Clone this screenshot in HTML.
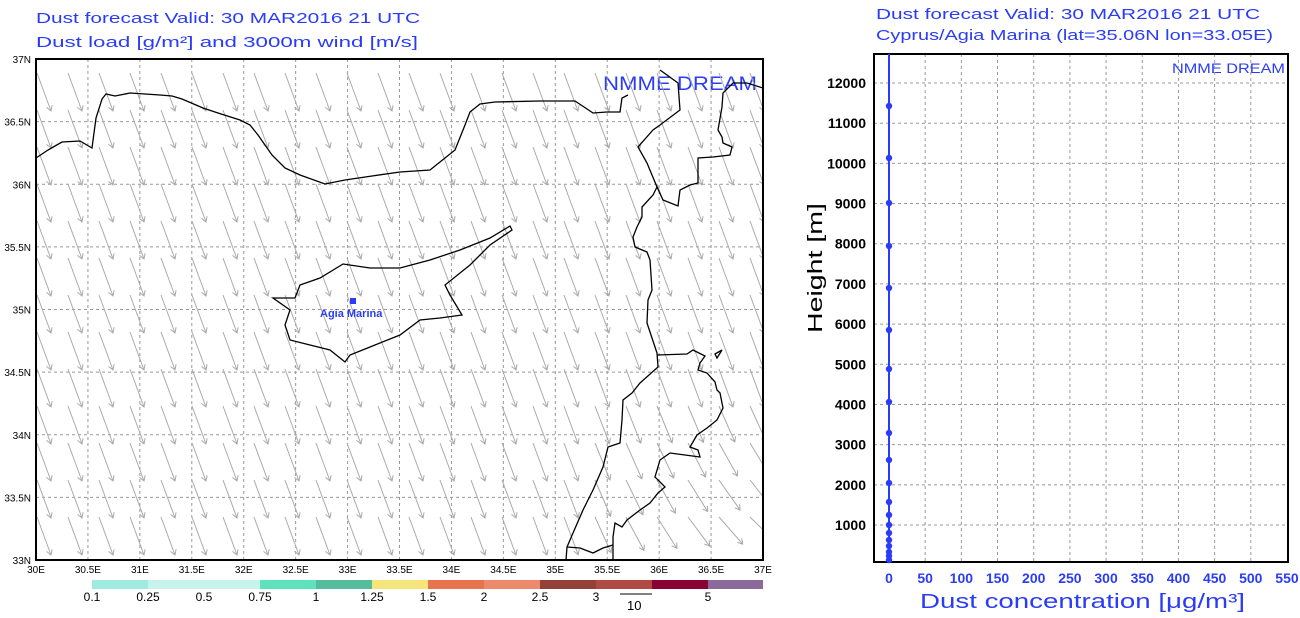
<!DOCTYPE html>
<html><head><meta charset="utf-8"><style>
html,body{margin:0;padding:0;background:#fff;width:1300px;height:618px;overflow:hidden}
svg{display:block}
text{font-family:"Liberation Sans",sans-serif}
</style></head><body>
<svg id="s" width="1300" height="618" viewBox="0 0 1300 618" xmlns="http://www.w3.org/2000/svg">
<defs><clipPath id="mc"><rect x="36" y="59" width="727" height="501"/></clipPath></defs>
<g fill="#2a3cf5" font-size="15">
<text x="36" y="23" textLength="384" lengthAdjust="spacingAndGlyphs">Dust forecast    Valid: 30 MAR2016 21 UTC</text>
<text x="36" y="47" textLength="382" lengthAdjust="spacingAndGlyphs">Dust load [g/m²]  and 3000m wind [m/s]</text>
<text x="876" y="19" textLength="384" lengthAdjust="spacingAndGlyphs">Dust forecast    Valid: 30 MAR2016 21 UTC</text>
<text x="876" y="40" textLength="397" lengthAdjust="spacingAndGlyphs">Cyprus/Agia Marina (lat=35.06N lon=33.05E)</text>
<text x="603" y="90" font-size="19" textLength="154" lengthAdjust="spacingAndGlyphs">NMME DREAM</text>
<text x="1172" y="73" font-size="14" textLength="113" lengthAdjust="spacingAndGlyphs">NMME DREAM</text>
</g>
<g id="grid" stroke="#999" stroke-dasharray="3,3" stroke-width="1"></g>
<g id="arr" stroke="#aaa" stroke-width="1" fill="none" clip-path="url(#mc)"></g>
<g fill="none" stroke="#000" stroke-width="1.3">
<polyline points="36,158 48,150 55,146 62,142 80,141 92,148 96,118 102,99 106,94 115,96 130,93 160,95 172,96 182,99 203,108 218,113 240,120 250,125 258,135 272,155 285,168 300,175 325,184 345,180 372,176 400,172 430,170 455,150 465,125 470,112 480,104 495,102 540,101 575,101 593,113 607,112 620,112 622,98 628,95"/>
<polyline points="660,70 678,83 680,110 660,125 653,130 638,147 647,163 657,187 653,195 642,207 642,217 637,227 633,237 635,247 647,252 650,260 652,290 648,300 647,323 657,353 658,367 640,383 632,393 623,400 622,420 620,443 608,447 603,467 593,490 583,510 573,533 567,547 566,560"/>
<polyline points="657,187 663,200 678,206 680,190 690,185 698,183 698,158 713,157 730,155 732,147 723,143 722,137 718,130 722,107 723,93 733,83 747,83 763,88"/>
<polyline points="657,355 687,354 693,350 705,356 700,363 698,370 707,373 715,382 717,390 720,393 723,408 717,420 707,428 697,435 690,447 698,450 700,457 670,453 660,460 655,477 665,487 658,493 650,503 640,510 627,520 622,527 615,523 613,537 613,560"/>
<polyline points="567,547 580,548 593,553 603,548 613,545"/>
<polygon points="715,354 722,350 717,358"/>
<polygon points="273,298 295,298 300,285 320,278 343,264 370,268 400,268 430,260 460,250 490,238 510,226 512,230 490,245 470,265 445,285 450,295 462,315 440,318 420,320 400,335 375,345 350,355 345,362 330,350 310,345 290,340 285,325 290,310"/>
</g>
<rect x="36" y="59" width="727" height="501" fill="none" stroke="#000" stroke-width="2"/>
<rect x="350" y="298" width="6" height="6" fill="#2a3cf5"/>
<text x="320" y="317" fill="#2a3cf5" font-size="11" font-weight="bold">Agia Marina</text>
<g id="maplab" font-size="10" fill="#000"></g>
<g id="cbar"></g>
<line x1="620" y1="594" x2="652" y2="594" stroke="#000"/>
<text x="627" y="610" font-size="13">10</text>
<g id="grid2" stroke="#999" stroke-dasharray="3,3"></g>
<rect x="874" y="54" width="414" height="508" fill="none" stroke="#000" stroke-width="2"/>
<line x1="889" y1="54" x2="889" y2="562" stroke="#2a3cf5" stroke-width="2"/>
<g id="pts" fill="#2a3cf5"></g>
<g id="lab2" font-size="14"></g>
<text x="920" y="608" fill="#2a3cf5" font-size="20" textLength="325" lengthAdjust="spacingAndGlyphs">Dust concentration [μg/m³]</text>
<text transform="translate(822,333) rotate(-90)" fill="#000" font-size="20" textLength="130" lengthAdjust="spacingAndGlyphs">Height [m]</text>
</svg>
<script>
var NS="http://www.w3.org/2000/svg";
function el(p,t,a,txt){var e=document.createElementNS(NS,t);for(var k in a)e.setAttribute(k,a[k]);if(txt!==undefined)e.textContent=txt;document.getElementById(p).appendChild(e);return e;}
function cl(v){return Math.max(0,Math.min(1,v));}
var x0=36,x1=763,y0=59,y1=560;
for(var i=1;i<14;i++){var x=x0+i*(x1-x0)/14;el("grid","line",{x1:x,y1:y0,x2:x,y2:y1});}
for(var j=1;j<8;j++){var y=y0+j*(y1-y0)/8;el("grid","line",{x1:x0,y1:y,x2:x1,y2:y});}
for(var i=0;i<=14;i++){var x=x0+i*(x1-x0)/14;var l=(30+i*0.5);var s=(l%1?l.toFixed(1):l)+"E";el("maplab","text",{x:x,y:573,"text-anchor":"middle"},s);}
for(var j=0;j<=8;j++){var y=y0+j*(y1-y0)/8;var l=37-j*0.5;var s=(l%1?l.toFixed(1):l)+"N";el("maplab","text",{x:31,y:y+4,"text-anchor":"end"},s);}
for(var r=0;r<14;r++)for(var c=0;c<24;c++){
 var x=37+c*31,y=73+r*37; if(x>760)continue;
 var t=cl((x-560)/200)*cl((y-380)/180);
 var dx=14+t*16,dy=38-t*18;
 if(y+dy>558)dy=558-y; if(dy<8)continue;
 var ex=x+dx,ey=y+dy,L=Math.hypot(dx,dy),ux=dx/L,uy=dy/L;
 el("arr","path",{d:"M"+x+","+y+"L"+ex+","+ey+"M"+(ex-5*ux-3*uy)+","+(ey-5*uy+3*ux)+"L"+ex+","+ey+"L"+(ex-5*ux+3*uy)+","+(ey-5*uy-3*ux)});
}
var cols=["#a0ebe0","#c8f3ec","#c8f3ec","#5ee2bb","#55bd9d","#f5e57a","#e8734f","#ec8a6b","#934038","#b04a44","#890433","#8b6a9b"];
var labs=["0.1","0.25","0.5","0.75","1","1.25","1.5","2","2.5","3","","5"];
for(var k=0;k<12;k++){var a=92+k*56;el("cbar","rect",{x:a,y:580,width:(k==11?763-a:56),height:9,fill:cols[k]});
 if(labs[k])el("cbar","text",{x:a,y:601,"font-size":12,"text-anchor":"middle"},labs[k]);}
function X(v){return 889+v*0.7236;} function Y(h){return 525-(h-1000)*0.04018;}
for(var v=50;v<550;v+=50)el("grid2","line",{x1:X(v),y1:54,x2:X(v),y2:562});
for(var h=1000;h<=12000;h+=1000)el("grid2","line",{x1:874,y1:Y(h),x2:1288,y2:Y(h)});
for(var v=0;v<=550;v+=50)el("lab2","text",{x:X(v),y:583,"text-anchor":"middle",fill:"#2a3cf5","font-weight":"bold"},v);
for(var h=1000;h<=12000;h+=1000)el("lab2","text",{x:866,y:Y(h)+5,"text-anchor":"end",fill:"#000","font-weight":"bold"},h);
[106,158,203,246,288,330,369,402,433,460,483,502,515,525,533,540,546,552,556,560].forEach(function(y){el("pts","circle",{cx:889,cy:y,r:3.2});});
</script>
</body></html>
